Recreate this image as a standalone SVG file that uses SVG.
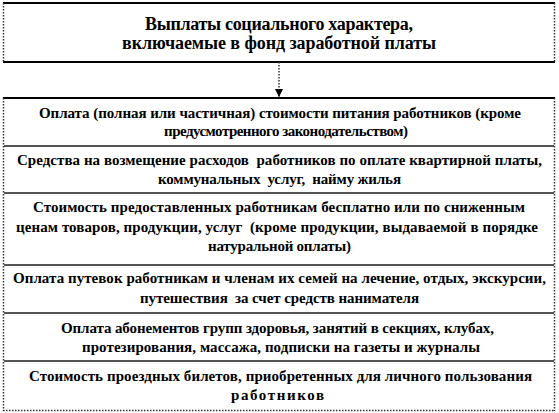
<svg xmlns="http://www.w3.org/2000/svg" width="559" height="413" viewBox="0 0 559 413">
<defs>
<style>
.hl{stroke:#000;stroke-width:2;fill:none}
.dv{stroke:#555;stroke-width:2;fill:none}
.vl{stroke:#333;stroke-width:1.5;stroke-dasharray:1.5 1.5;fill:none}
</style>
<marker id="ah" viewBox="0 0 8 8" refX="8" refY="4" markerWidth="8" markerHeight="8" markerUnits="userSpaceOnUse" orient="auto">
<path d="M0,0 L8,4 L0,8 Z" fill="#000"/>
</marker>
</defs>
<rect width="559" height="413" fill="#fff"/>
<g id="header">
<line class="hl" x1="3" y1="3" x2="555" y2="3"/>
<line class="hl" x1="3" y1="62" x2="555" y2="62"/>
<line class="vl" x1="3.5" y1="3" x2="3.5" y2="62" stroke-dasharray="3 2"/>
<line class="vl" x1="554.5" y1="3" x2="554.5" y2="62"/>
<text x="145" y="30" textLength="268" font-family="Liberation Serif" font-size="18" font-weight="bold">Выплаты социального характера,</text>
<text x="122" y="49" textLength="314" font-family="Liberation Serif" font-size="18" font-weight="bold">включаемые в фонд заработной платы</text>
</g>
<g id="connectors">
<line x1="279" y1="62" x2="279" y2="97" stroke="#333" stroke-width="1.5" stroke-dasharray="1.5 1.5" marker-end="url(#ah)"/>
</g>
<g id="frame">
<line class="hl" x1="3" y1="98" x2="555" y2="98"/>
<line class="vl" x1="3.5" y1="98" x2="3.5" y2="411"/>
<line class="vl" x1="554.5" y1="98" x2="554.5" y2="411"/>
<line class="vl" x1="3" y1="410.5" x2="555" y2="410.5"/>
</g>
<g id="n1">
<text x="39" y="118" textLength="482" font-family="Liberation Serif" font-size="15" font-weight="bold">Оплата (полная или частичная) стоимости питания работников (кроме</text>
<text x="164" y="136" textLength="244" font-family="Liberation Serif" font-size="15" font-weight="bold">предусмотренного законодательством)</text>
</g>
<g id="n2">
<line class="dv" x1="4" y1="146" x2="554" y2="146"/>
<text x="17" y="165" textLength="525" font-family="Liberation Serif" font-size="15" font-weight="bold" xml:space="preserve">Средства на возмещение расходов  работников по оплате квартирной платы,</text>
<text x="158" y="184" textLength="243" font-family="Liberation Serif" font-size="15" font-weight="bold" xml:space="preserve">коммунальных  услуг,  найму жилья</text>
</g>
<g id="n3">
<line class="dv" x1="4" y1="193" x2="554" y2="193"/>
<text x="33" y="212" textLength="492" font-family="Liberation Serif" font-size="15" font-weight="bold">Стоимость предоставленных работникам бесплатно или по сниженным</text>
<text x="16" y="232" textLength="522" font-family="Liberation Serif" font-size="15" font-weight="bold" xml:space="preserve">ценам товаров, продукции, услуг  (кроме продукции, выдаваемой в порядке</text>
<text x="208" y="251" textLength="143" font-family="Liberation Serif" font-size="15" font-weight="bold">натуральной оплаты)</text>
</g>
<g id="n4">
<line class="dv" x1="4" y1="265" x2="554" y2="265"/>
<text x="13" y="283" textLength="533" font-family="Liberation Serif" font-size="15" font-weight="bold">Оплата путевок работникам и членам их семей на лечение, отдых, экскурсии,</text>
<text x="140" y="303" textLength="279" font-family="Liberation Serif" font-size="15" font-weight="bold" xml:space="preserve">путешествия  за счет средств нанимателя</text>
</g>
<g id="n5">
<line class="dv" x1="4" y1="313" x2="554" y2="313"/>
<text x="61" y="333" textLength="433" font-family="Liberation Serif" font-size="15" font-weight="bold">Оплата абонементов групп здоровья, занятий в секциях, клубах,</text>
<text x="82" y="352" textLength="398" font-family="Liberation Serif" font-size="15" font-weight="bold">протезирования, массажа, подписки на газеты и журналы</text>
</g>
<g id="n6">
<line class="dv" x1="4" y1="361" x2="554" y2="361"/>
<text x="29" y="381" textLength="503" font-family="Liberation Serif" font-size="15" font-weight="bold">Стоимость проездных билетов, приобретенных для личного пользования</text>
<text x="231" y="400" textLength="93" font-family="Liberation Serif" font-size="15" font-weight="bold">работников</text>
</g>
</svg>
